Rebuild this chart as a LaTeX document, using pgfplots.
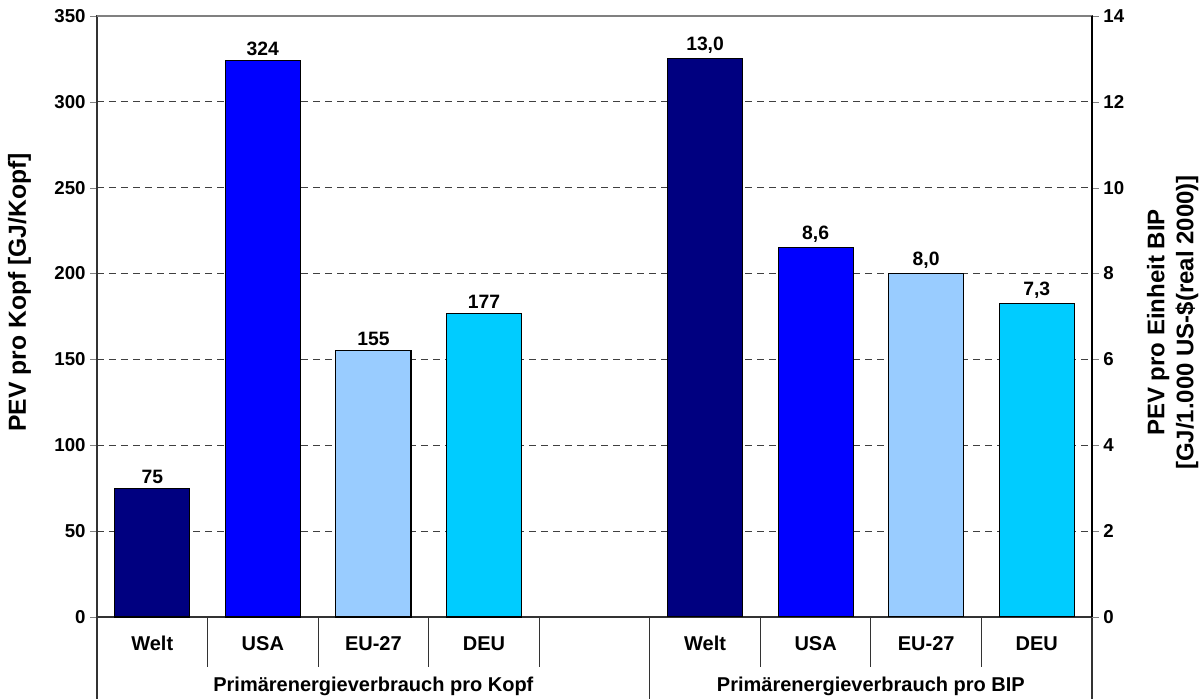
\documentclass[border=0pt]{standalone}
\usepackage{pgfplots}
\pgfplotsset{compat=1.18}
\usepackage{fontspec}
\setmainfont{Liberation Sans}

\definecolor{cNavy}{RGB}{0,0,128}
\definecolor{cBlue}{RGB}{0,0,255}
\definecolor{cLight}{RGB}{153,204,255}
\definecolor{cCyan}{RGB}{0,204,255}

\pgfplotsset{
  common/.style={
    scale only axis,
    width=746.25pt, height=450.75pt,
    xmin=-0.5, xmax=8.5,
    ymin=0,
    ybar, bar width=0.68,
    tick align=outside,
    major tick length=5pt,
    /pgf/number format/assume math mode=true,
    tick label style={font=\fontsize{14}{16}\selectfont\bfseries},
    nodes near coords style={font=\fontsize{14.5}{16}\selectfont\bfseries, black},
    every axis plot/.append style={draw=black, line width=0.8pt, bar shift=0pt},
  },
}

\begin{document}
\begin{tikzpicture}
\begin{axis}[
  common,
  name=main,
  ymax=350,
  ytick={0,50,...,350},
  ytick pos=left,
  xtick={0,...,8},
  xticklabels={Welt,USA,EU-27,DEU,{},Welt,USA,EU-27,DEU},
  xtick style={draw=none},
  xticklabel style={font=\fontsize{15}{17}\selectfont\bfseries, anchor=center, yshift=-15pt},
  ymajorgrids,
  major grid style={black!75, line width=0.7pt, dash pattern=on 5pt off 4pt},
  axis line style={black!80, line width=0.8pt},
  clip=false,
  nodes near coords,
  every axis y label/.style={at={(axis description cs:-0.078,0.54)}, rotate=90, anchor=center,
    font=\fontsize{18.5}{22}\selectfont\bfseries},
  ylabel={PEV pro Kopf [GJ/Kopf]},
]
\addplot[fill=cNavy] coordinates {(0,75)};
\addplot[fill=cBlue] coordinates {(1,324)};
\addplot[fill=cLight] coordinates {(2,155)};
\addplot[fill=cCyan] coordinates {(3,177)};
% oberer Rahmen grau
\draw[black!50, line width=0.8pt] (axis cs:-0.5,350) -- (axis cs:8.5,350);
% Kategorie-Tabelle unter der Achse
\draw[black!80, line width=0.8pt] (axis cs:0.5,0) -- ++(0pt,-37.5pt);
\draw[black!80, line width=0.8pt] (axis cs:1.5,0) -- ++(0pt,-37.5pt);
\draw[black!80, line width=0.8pt] (axis cs:2.5,0) -- ++(0pt,-37.5pt);
\draw[black!80, line width=0.8pt] (axis cs:3.5,0) -- ++(0pt,-37.5pt);
\draw[black!80, line width=0.8pt] (axis cs:5.5,0) -- ++(0pt,-37.5pt);
\draw[black!80, line width=0.8pt] (axis cs:6.5,0) -- ++(0pt,-37.5pt);
\draw[black!80, line width=0.8pt] (axis cs:7.5,0) -- ++(0pt,-37.5pt);
\draw[black!80, line width=0.8pt] (axis cs:-0.5,0) -- ++(0pt,-61.5pt);
\draw[black!80, line width=0.8pt] (axis cs:4.5,0) -- ++(0pt,-61.5pt);
\draw[black!80, line width=0.8pt] (axis cs:8.5,0) -- ++(0pt,-61.5pt);
\node[font=\fontsize{15}{17}\selectfont\bfseries] at ([yshift=-51.75pt]axis cs:2,0) {Primärenergieverbrauch pro Kopf};
\node[font=\fontsize{15}{17}\selectfont\bfseries] at ([yshift=-51.75pt]axis cs:6.5,0) {Primärenergieverbrauch pro BIP};
\end{axis}

\begin{axis}[
  common,
  at={(main.south west)}, anchor=south west,
  ymax=14,
  ytick={0,2,...,14},
  axis x line=none,
  axis y line*=right,
  axis line style={black, line width=0.8pt},
  nodes near coords,
  nodes near coords={\pgfmathprintnumber[fixed, fixed zerofill, precision=1, use comma]{\pgfplotspointmeta}},
  every axis y label/.style={at={(axis description cs:1.081,0.49)}, rotate=90, anchor=center, align=center,
    font=\fontsize{18}{21.75}\selectfont\bfseries},
  ylabel={PEV pro Einheit BIP\\{[}GJ/1.000 US-\$(real 2000)]},
]
\addplot[fill=cNavy] coordinates {(5,13.0)};
\addplot[fill=cBlue] coordinates {(6,8.6)};
\addplot[fill=cLight] coordinates {(7,8.0)};
\addplot[fill=cCyan] coordinates {(8,7.3)};
\end{axis}

\pgfresetboundingbox
\path ([xshift=-72.75pt,yshift=-61.5pt]main.south west) rectangle ([xshift=83.25pt,yshift=12pt]main.north east);
\end{tikzpicture}
\end{document}
